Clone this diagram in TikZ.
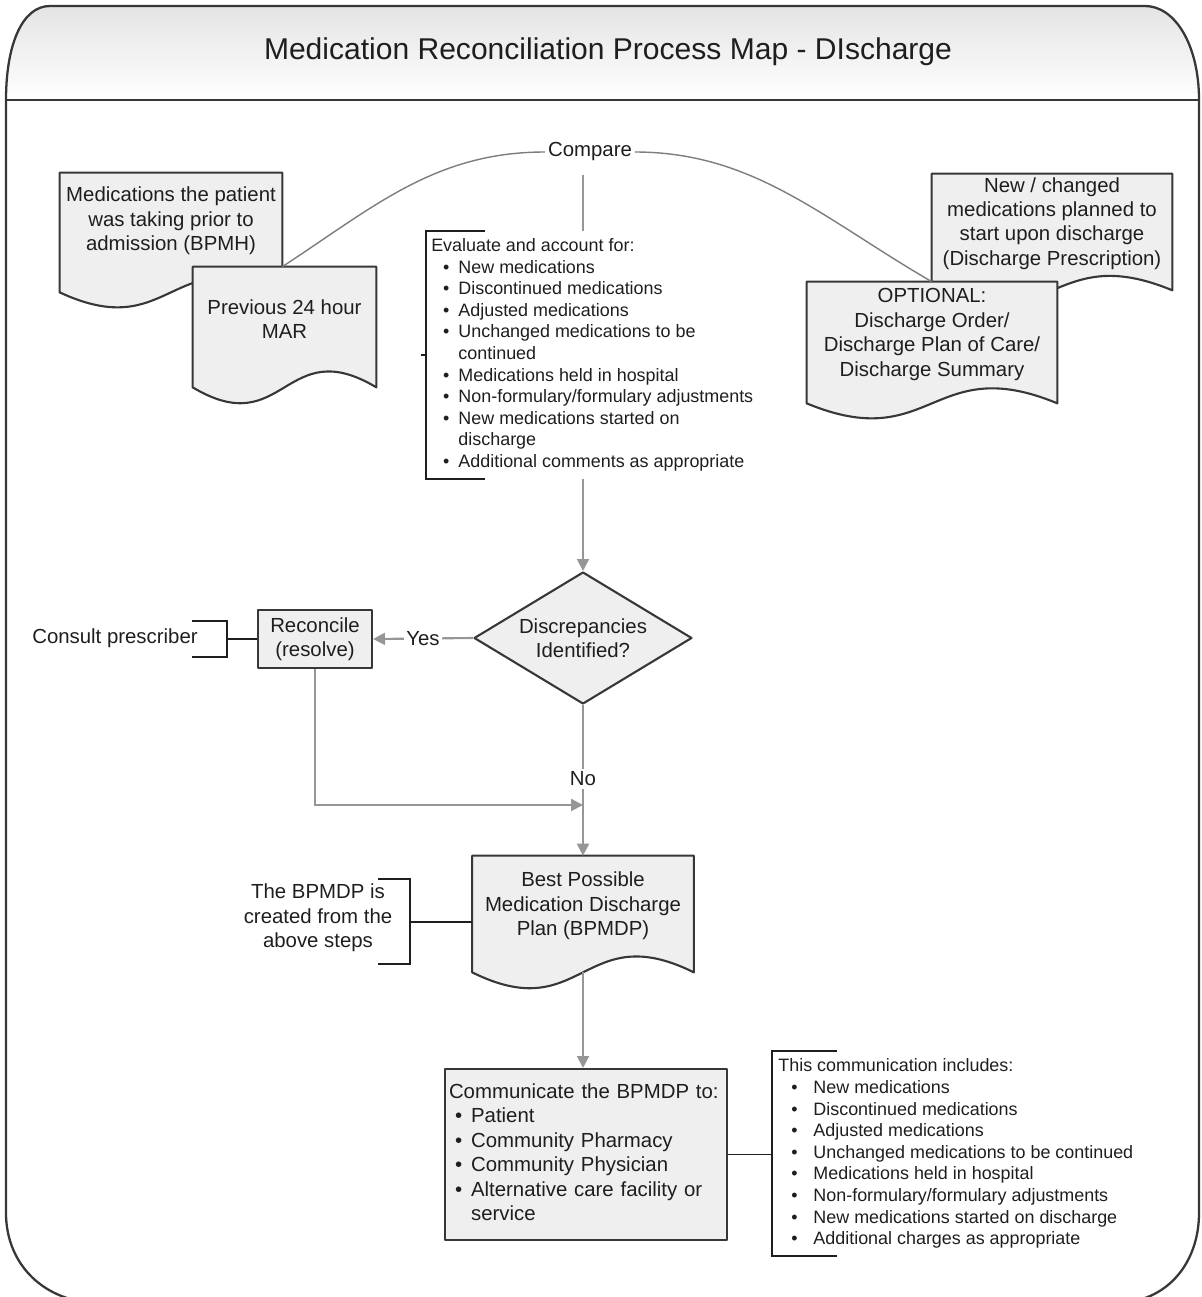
\documentclass[tikz,border=0pt]{standalone}
\usepackage{fontspec}
\setmainfont{Liberation Sans}
\usetikzlibrary{arrows.meta,calc,shapes.geometric,backgrounds}

\definecolor{shapefill}{RGB}{239,239,239}
\definecolor{shapeline}{RGB}{55,55,55}
\definecolor{flowgray}{RGB}{150,150,150}
\definecolor{arcgray}{RGB}{125,125,125}
\definecolor{inkdark}{RGB}{30,30,30}
\definecolor{headtop}{RGB}{228,228,228}

\tikzset{
  base/.style={font=\fontsize{11.6}{13.9}\selectfont, text=inkdark, align=center, inner sep=0pt},
  small/.style={font=\fontsize{10.2}{12.3}\selectfont, text=inkdark},
  outline/.style={draw=shapeline, fill=shapefill, line width=1.2pt, line join=round},
  frameline/.style={draw=shapeline, line width=1.3pt},
  flow/.style={draw=flowgray, line width=1.2pt, -{Triangle[length=6.8pt,width=6.8pt]}},
  bracket/.style={draw=inkdark, line width=1.1pt},
  arcline/.style={draw=arcgray, line width=0.8pt},
  lbl/.style={base, fill=white, inner sep=1.5pt},
}

% document shape: flat top, wavy bottom (extra drop #2, wave depth #3)
\newcommand\docoutline[3]{%
  \path[outline] (#1.north west) -- (#1.north east) -- ($(#1.south east)+(0,#2)$)
    .. controls ($(#1.south)+(0,#2-#3)$) and ($(#1.south)+(0,#2+#3)$) ..
    ($(#1.south west)+(0,#2)$) -- cycle;}

\begin{document}
\begin{tikzpicture}[x=0.02cm,y=-0.02cm]
\useasboundingbox (0,0) rectangle (1201,1297);

% page frame with shaded header band
\begin{scope}[on background layer]
  \begin{scope}
    \clip (0,0) rectangle (1201,1297);
    \path[top color=headtop, bottom color=white]
      (6,100) .. controls (6,45) and (22,6) .. (50,6) -- (1145,6)
      .. controls (1175,6) and (1199,45) .. (1199,100) -- cycle;
    \draw[frameline]
      (6,100) .. controls (6,45) and (22,6) .. (50,6) -- (1145,6)
      .. controls (1175,6) and (1199,45) .. (1199,100) -- (1199,1213)
      .. controls (1199,1262) and (1168,1303) .. (1115,1303) -- (100,1303)
      .. controls (45,1303) and (6,1265) .. (6,1213) -- cycle;
    \draw[frameline] (6,100) -- (1199,100);
  \end{scope}
\end{scope}

\node[base, font=\fontsize{17.1}{20}\selectfont] (title) at (608,52)
  {Medication Reconciliation Process Map - DIscharge};

% source documents
\node[base, minimum width=4.44cm, minimum height=1.92cm] (bpmh) at (171,221)
  {Medications the patient\\was taking prior to\\admission (BPMH)};
\node[base, minimum width=3.66cm, minimum height=2.08cm] (mar) at (284.5,319)
  {Previous 24 hour\\MAR};
\node[base, minimum width=4.8cm, minimum height=1.98cm] (newdoc) at (1052,223.5)
  {New / changed\\medications planned to\\start upon discharge\\(Discharge Prescription)};
\node[base, minimum width=5cm, minimum height=2.1cm] (opt) at (932,334.5)
  {OPTIONAL:\\Discharge Order/\\Discharge Plan of Care/\\Discharge Summary};

\node[lbl] (cmp) at (590,152) {Compare};

% decision and reconcile step
\node[base, diamond, outline, aspect=1.65, minimum width=4.36cm, minimum height=2.64cm]
  (dia) at (583,638) {Discrepancies\\Identified?};
\node[base, outline, minimum width=2.28cm, minimum height=1.16cm] (rec) at (315,639)
  {Reconcile\\(resolve)};
\node[base] (consult) at (115,638) {Consult prescriber};

% discharge plan and communication
\node[base, minimum width=4.42cm, minimum height=2cm] (plan) at (583,906)
  {Best Possible\\Medication Discharge\\Plan (BPMDP)};
\node[base] (created) at (318,918) {The BPMDP is\\created from the\\above steps};

\node[base, outline, align=left, text width=5.48cm, inner xsep=0.08cm,
      minimum height=3.42cm] (comm) at (586,1154.5)
  {\begin{tabular}{@{\hspace{3.4pt}}l@{\hspace{5.1pt}}l@{}}
   \multicolumn{2}{@{}l@{}}{Communicate the BPMDP to:}\\
   \textbullet & Patient\\
   \textbullet & Community Pharmacy\\
   \textbullet & Community Physician\\
   \textbullet & Alternative care facility or\\
               & service
   \end{tabular}};

\node[small, anchor=west, inner sep=0pt] (comms) at (778,1154)
  {\begin{tabular}{@{\hspace{7.4pt}}l@{\hspace{9pt}}l@{}}
   \multicolumn{2}{@{}l@{}}{This communication includes:}\\
   \textbullet & New medications\\
   \textbullet & Discontinued medications\\
   \textbullet & Adjusted medications\\
   \textbullet & Unchanged medications to be continued\\
   \textbullet & Medications held in hospital\\
   \textbullet & Non-formulary/formulary adjustments\\
   \textbullet & New medications started on discharge\\
   \textbullet & Additional charges as appropriate
   \end{tabular}};

% document outlines and the main vertical flow sit beneath the texts
\begin{scope}[on background layer]
  \docoutline{bpmh}{23}{52}
  \docoutline{mar}{16}{55}
  \docoutline{newdoc}{17}{50}
  \docoutline{opt}{16}{52}
  \docoutline{plan}{16}{55}
  \draw[flow, shorten <=6pt] (cmp.south -| dia.north) -- (dia.north);
\end{scope}

% evaluation note over the vertical flow
\node[small, anchor=north west, inner sep=2.8pt, fill=white] (eval) at (426,231)
  {\begin{tabular}{@{\hspace{6.8pt}}l@{\hspace{5.1pt}}l@{}}
   \multicolumn{2}{@{}l@{}}{Evaluate and account for:}\\
   \textbullet & New medications\\
   \textbullet & Discontinued medications\\
   \textbullet & Adjusted medications\\
   \textbullet & Unchanged medications to be\\
               & continued\\
   \textbullet & Medications held in hospital\\
   \textbullet & Non-formulary/formulary adjustments\\
   \textbullet & New medications started on\\
               & discharge\\
   \textbullet & Additional comments as appropriate
   \end{tabular}};
\draw[bracket] ($(eval.north west)+(59,0)$) -- (eval.north west) -- (eval.south west) -- ++(59,0);
\draw[bracket] (eval.west) -- ++(-5,0);

% compare arc
\draw[arcline] (bpmh.east |- mar.north) .. controls +(92,-60) and +(-110,0) .. (cmp.west);
\draw[arcline] (cmp.east) .. controls +(118,0) and +(-110,-64) .. (newdoc.west |- opt.north);

% decision branches
\draw[flow] (dia.west) -- node[lbl] {Yes} (rec.east);
\coordinate (merge) at (583,805);
\draw[flow] (rec.south) |- (merge);
\draw[flow] (dia.south) -- node[lbl, pos=0.49] {No} (plan.north);
\coordinate (planfoot) at ($(plan.south)+(0,16)$);
\draw[flow] (planfoot) -- (planfoot |- comm.north);

% annotation brackets
\coordinate (consultspine) at (227,639);
\draw[bracket] (192,621) -- (227,621) -- (227,657) -- (192,657);
\draw[bracket] (consultspine) -- (consultspine -| rec.west);

\coordinate (createdspine) at (410,922);
\draw[bracket] (378,879) -- (410,879) -- (410,964) -- (378,964);
\draw[bracket] (createdspine) -- (createdspine -| plan.west);

\coordinate (commspine) at (772,1154.5);
\draw[bracket] (837,1051) -- (772,1051) -- (772,1256) -- (837,1256);
\draw[bracket] (comm.east) -- (commspine);
\end{tikzpicture}
\end{document}
